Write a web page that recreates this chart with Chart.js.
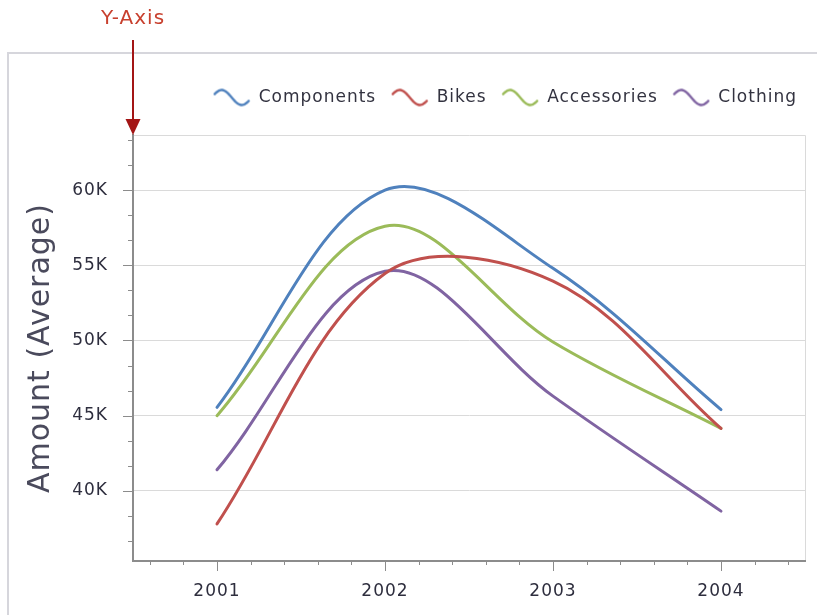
<!DOCTYPE html>
<html>
<head>
<meta charset="utf-8">
<script src="https://cdn.jsdelivr.net/npm/chart.js@4"></script>
<style>
html,body{margin:0;padding:0;background:#ffffff;overflow:hidden}
#wrap{width:817px;height:615px;position:relative}
canvas{display:block}
</style>
</head>
<body>
<div id="wrap"><canvas id="c" width="817" height="615"></canvas></div>
<script>
// ---- data ----
const years = ['2001', '2002', '2003', '2004'];
const components = [45550, 60000, 54800, 45400];
const bikes = [37800, 54450, 53950, 44150];
const accessories = [45000, 57600, 49900, 44150];
const clothing = [41400, 54600, 46300, 38650];
const seriesNames = ['Components', 'Bikes', 'Accessories', 'Clothing'];
const seriesColors = ['#4f81bd', '#c0504d', '#9bbb59', '#8064a2'];
const yMajorTicks = [40000, 45000, 50000, 55000, 60000];
const yMinorPerMajor = 3;
const yMin = 35333;
const yMax = 63667;
const xMinorPerCategory = 5;
const axisTitle = 'Amount (Average)';
const annotationText = 'Y-Axis';

// ---- helpers ----
const FONT = "'DejaVu Sans', Verdana, sans-serif";
const majorStep = yMajorTicks[1] - yMajorTicks[0];
function isMajor(v) { return yMajorTicks.some(m => Math.abs(m - v) < 1); }
function buildYTicks() {
  const out = [];
  const minorStep = majorStep / yMinorPerMajor;
  const start = yMajorTicks[0] - majorStep * Math.ceil((yMajorTicks[0] - yMin) / majorStep);
  for (let m = start; m <= yMax; m += majorStep) {
    for (let k = 0; k < yMinorPerMajor; k++) {
      const v = m + k * minorStep;
      if (v >= yMin && v <= yMax) out.push(v);
    }
  }
  return out;
}
function makeWave(color) {
  const c = document.createElement('canvas');
  c.width = 38; c.height = 24;
  const g = c.getContext('2d');
  g.strokeStyle = color; g.lineWidth = 2.4; g.lineCap = 'round';
  g.beginPath();
  const a0 = -0.35 * Math.PI, a1 = 1.35 * Math.PI;
  for (let i = 0; i <= 40; i++) {
    const t = i / 40;
    const a = a0 + (a1 - a0) * t;
    const x = 2 + 34 * t;
    const y = 12 - 7.5 * Math.cos(a);
    if (i === 0) g.moveTo(x, y); else g.lineTo(x, y);
  }
  g.stroke();
  return c;
}

const seriesData = [components, bikes, accessories, clothing];
const datasets = seriesData.map((d, i) => ({
  label: seriesNames[i],
  data: d,
  borderColor: seriesColors[i],
  backgroundColor: seriesColors[i],
  borderWidth: 3,
  pointRadius: 0,
  pointHoverRadius: 0,
  pointStyle: makeWave(seriesColors[i]),
  tension: 0.35,
  fill: false,
  borderCapStyle: 'round',
  borderJoinStyle: 'round'
}));

const spacingPlugin = {
  id: 'spacing',
  beforeUpdate(chart) { chart.ctx.letterSpacing = '1px'; },
  beforeDraw(chart) { chart.ctx.letterSpacing = '1px'; }
};

const legendPlacement = {
  id: 'legendPlacement',
  afterLayout(chart) {
    const lg = chart.legend;
    if (!lg) return;
    const h = lg.height;
    lg.top = 74;
    lg.bottom = 74 + h;
    lg.right = chart.width - 5;
  }
};

const framePlugin = {
  id: 'frame',
  beforeDraw(chart) {
    const ctx = chart.ctx;
    const a = chart.chartArea;
    ctx.save();
    ctx.strokeStyle = '#d6d6dc';
    ctx.lineWidth = 2;
    ctx.beginPath();
    ctx.moveTo(8, chart.height + 5);
    ctx.lineTo(8, 53);
    ctx.lineTo(chart.width + 5, 53);
    ctx.stroke();
    ctx.strokeStyle = '#dadada';
    ctx.lineWidth = 1;
    ctx.beginPath();
    ctx.moveTo(a.left, a.top + 0.5);
    ctx.lineTo(a.right + 0.5, a.top + 0.5);
    ctx.lineTo(a.right + 0.5, a.bottom);
    ctx.stroke();
    ctx.restore();
  }
};

const tickMarks = {
  id: 'tickMarks',
  afterDraw(chart) {
    const ctx = chart.ctx;
    const a = chart.chartArea;
    const ys = chart.scales.y, xs = chart.scales.x;
    ctx.save();
    ctx.strokeStyle = '#8c8c8c';
    ctx.lineWidth = 1;
    ctx.beginPath();
    ys.ticks.forEach(t => {
      const py = Math.round(ys.getPixelForValue(t.value)) + 0.5;
      const len = isMajor(t.value) ? 10 : 5;
      ctx.moveTo(a.left - len, py);
      ctx.lineTo(a.left, py);
    });
    const n = years.length;
    for (let i = -xMinorPerCategory; i <= (n - 1) * xMinorPerCategory + xMinorPerCategory; i++) {
      const px = xs.getPixelForValue(i / xMinorPerCategory);
      if (px <= a.left + 2 || px >= a.right - 2) continue;
      const len = (i % xMinorPerCategory === 0) ? 10 : 4;
      const rx = Math.round(px) + 0.5;
      ctx.moveTo(rx, a.bottom);
      ctx.lineTo(rx, a.bottom + len);
    }
    ctx.stroke();

    // annotation arrow pointing at the Y axis
    const ax = Math.round(ys.right);
    ctx.strokeStyle = '#a31515';
    ctx.fillStyle = '#a31515';
    ctx.lineWidth = 2;
    ctx.beginPath();
    ctx.moveTo(ax, 40);
    ctx.lineTo(ax, a.top - 14);
    ctx.stroke();
    ctx.beginPath();
    ctx.moveTo(ax - 7.5, a.top - 16);
    ctx.lineTo(ax + 7.5, a.top - 16);
    ctx.lineTo(ax, a.top);
    ctx.closePath();
    ctx.fill();

    ctx.letterSpacing = '1px';
    ctx.font = '20px ' + FONT;
    ctx.fillStyle = '#c8402e';
    ctx.textAlign = 'center';
    ctx.textBaseline = 'middle';
    ctx.fillText(annotationText, ax, 19);
    ctx.restore();
  }
};

const chart = new Chart(document.getElementById('c'), {
  type: 'line',
  data: { labels: years, datasets },
  options: {
    responsive: false,
    animation: false,
    devicePixelRatio: 1,
    layout: { padding: { left: 8, right: 12, top: 93, bottom: 0 } },
    plugins: {
      legend: {
        display: true,
        position: 'top',
        align: 'end',
        labels: {
          usePointStyle: true,
          pointStyleWidth: 37,
          font: { family: FONT, size: 17 },
          color: '#333340',
          padding: 15
        }
      },
      tooltip: { enabled: false }
    },
    scales: {
      x: {
        type: 'category',
        offset: true,
        grid: { display: false, drawTicks: false },
        border: { display: true, color: '#8c8c8c', width: 2 },
        ticks: { font: { family: FONT, size: 17 }, color: '#2e2e3e', padding: 20, maxRotation: 0, autoSkip: false },
        afterFit: s => { s.height = 54; }
      },
      y: {
        type: 'linear',
        min: yMin,
        max: yMax,
        grid: {
          drawTicks: false,
          color: c => (c.tick && isMajor(c.tick.value)) ? '#dadada' : 'rgba(0,0,0,0)',
          lineWidth: 1
        },
        border: { display: true, color: '#8c8c8c', width: 2 },
        ticks: {
          font: { family: FONT, size: 17 },
          color: '#2e2e3e',
          padding: 25,
          autoSkip: false,
          callback: v => isMajor(v) ? Math.round(v / 1000) + 'K' : ''
        },
        afterBuildTicks: s => { s.ticks = buildYTicks().map(v => ({ value: v })); },
        afterFit: s => { s.width = 125; },
        title: {
          display: true,
          text: axisTitle,
          font: { family: FONT, size: 30 },
          color: '#4a4a5c',
          padding: { top: 15, bottom: 0 }
        }
      }
    }
  },
  plugins: [spacingPlugin, legendPlacement, framePlugin, tickMarks]
});
</script>
</body>
</html>
